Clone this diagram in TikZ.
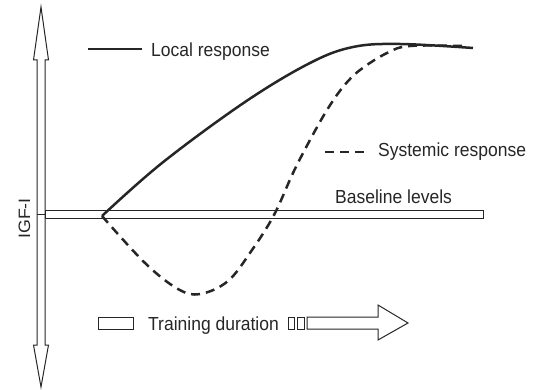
\documentclass[tikz,border=0pt]{standalone}
\usepackage{fontspec}
\setmainfont{Liberation Sans}
\begin{document}
\begin{tikzpicture}[x=1pt,y=-1pt,
  outline/.style={draw=black!85,line width=1pt,fill=white},
  curve/.style={line width=2.5pt,black!85,line join=round},
  dashcurve/.style={curve,dash pattern=on 9pt off 6pt},
  lbl/.style={font=\fontsize{17.5pt}{20pt}\selectfont,text=black!85,inner sep=0pt,yscale=1.08},
]
\useasboundingbox (0,0) rectangle (541,390);

% vertical double-headed axis
\draw[outline,line join=miter]
  (41,7) -- (48.5,60) -- (45,60) -- (45,345) -- (48.5,345) -- (41,387)
  -- (33.5,345) -- (37,345) -- (37,60) -- (33.5,60) -- cycle;
\draw[black!85,line width=1pt] (37,215) -- (45,215);
\node[lbl,font=\fontsize{16.5pt}{18pt}\selectfont,rotate=90,anchor=base] (igf) at (30,218.5) {IGF-I};

% baseline bar
\draw[outline] (45,211) rectangle (483,219);
\node[lbl,anchor=base west] (base) at (335,204) {Baseline levels};

% local response
\draw[curve] plot[smooth,tension=0.6] coordinates {(102,216) (162,163) (245,102) (310,63) (353,47) (400,44) (473,48)};

% systemic response
\draw[dashcurve] plot[smooth,tension=0.6] coordinates {(102,216) (145,263) (178,289) (200,294) (228,281) (252,250) (274,215) (293,173) (310,140) (327,110) (343,87) (360,70) (387,53) (410,46) (463,46)};

% legend
\coordinate (lsA) at (88,49);
\coordinate (lsB) at (142,49);
\draw[curve] (lsA) -- (lsB);
\node[lbl,anchor=base west] (local) at (151,57) {Local response};
\coordinate (ssA) at (325,152);
\coordinate (ssB) at (365,152);
\draw[dashcurve] (ssA) -- (ssB);
\node[lbl,anchor=base west] (sys) at (378,157) {Systemic response};

% training duration arrow
\draw[outline] (98,317) rectangle (133,329);
\node[lbl,anchor=base west] (train) at (148,330) {Training duration};
\draw[outline] (288.5,317) rectangle (294.5,329);
\draw[outline] (297.5,317) rectangle (304.5,329);
\draw[outline,line join=miter]
  (307,317) -- (378,317) -- (378,305) -- (408,323) -- (378,340) -- (378,329) -- (307,329) -- cycle;
\end{tikzpicture}
\end{document}
